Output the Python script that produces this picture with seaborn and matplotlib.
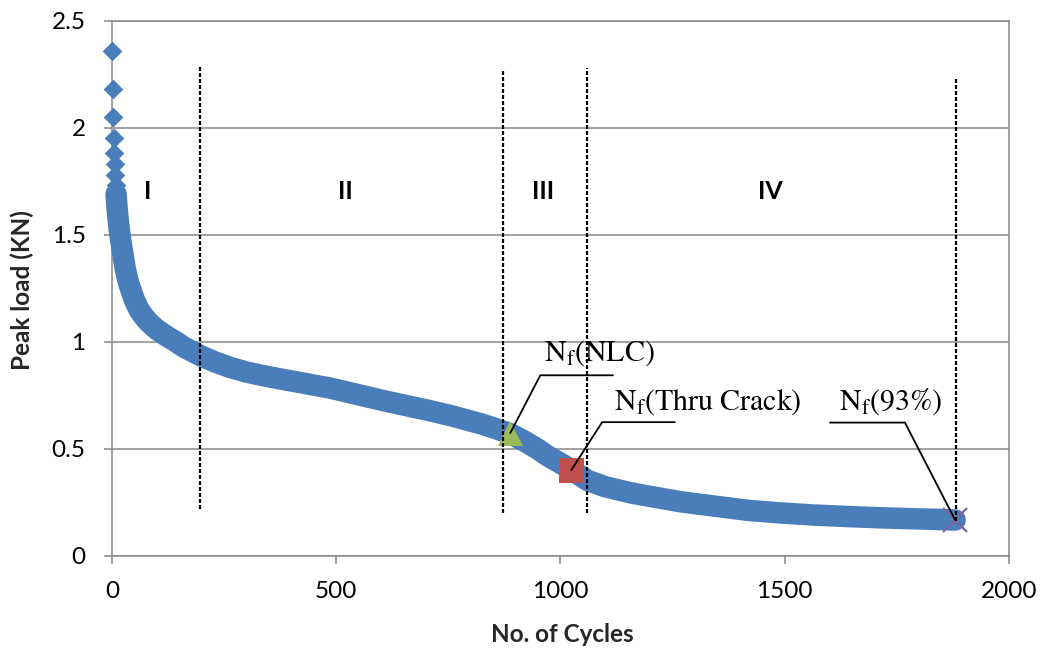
import numpy as np
import pandas as pd
import matplotlib
matplotlib.use("Agg")
import matplotlib.pyplot as plt
import seaborn as sns

# Peak load per cycle of the fatigue test
cycles = [1, 2, 3, 4, 5, 6, 7, 8, 9, 10, 11, 12, 13, 14, 15, 17, 20, 25, 30, 35,
          40, 50, 60, 70, 80, 90, 100, 120, 140, 160, 180, 200, 230, 263, 300,
          340, 375, 430, 487, 540, 598, 650, 710, 760, 821, 850, 888, 920, 950,
          970, 1000, 1024, 1060, 1100, 1156, 1200, 1268, 1312, 1350, 1417, 1490,
          1565, 1640, 1714, 1780, 1848, 1880]
peak_load = [2.36, 2.18, 2.05, 1.95, 1.88, 1.83, 1.78, 1.73, 1.69, 1.66, 1.63,
             1.61, 1.585, 1.565, 1.545, 1.51, 1.465, 1.40, 1.335, 1.29, 1.255,
             1.195, 1.15, 1.12, 1.095, 1.075, 1.057, 1.028, 1.003, 0.975, 0.953,
             0.932, 0.905, 0.880, 0.858, 0.840, 0.826, 0.805, 0.783, 0.757, 0.728,
             0.704, 0.677, 0.652, 0.617, 0.598, 0.570, 0.535, 0.497, 0.468, 0.432,
             0.402, 0.352, 0.322, 0.294, 0.277, 0.252, 0.240, 0.230, 0.212, 0.200,
             0.190, 0.183, 0.177, 0.173, 0.169, 0.167]

# Failure criteria picked on the curve
criteria = ["NLC", "Thru\\ Crack", "93\\%"]
criteria_cycles = [888, 1024, 1880]
criteria_loads = [0.573, 0.40, 0.167]
criteria_colors = ["#9BBB59", "#C0504D", "#8064A2"]
criteria_markers = ["^", "s", "x"]

# Stage boundaries and stage names
stage_bounds = [196, 872, 1059, 1883]
stage_bound_top = [2.29, 2.27, 2.28, 2.23]
stage_bound_bottom = [0.22, 0.20, 0.20, 0.16]
stage_names = ["I", "II", "III", "IV"]
stage_label_x = [80, 520, 962, 1467]

x_ticks = [0, 500, 1000, 1500, 2000]
x_tick_labels = ["0", "500", "1000", "1500", "2000"]
y_ticks = [0, 0.5, 1.0, 1.5, 2.0, 2.5]
y_tick_labels = ["0", "0.5", "1", "1.5", "2", "2.5"]

df = pd.DataFrame({"cycle": cycles, "load": peak_load})

sns.set_theme(style="white")
plt.rcParams["font.family"] = ["Lato", "DejaVu Sans"]
plt.rcParams["mathtext.fontset"] = "stix"

GRID = "#888888"
BLUE = "#4A7EBB"

fig = plt.figure(figsize=(10.42, 6.52), dpi=100)
ax = fig.add_axes([0.1075, 0.1477, 0.8608, 0.8206])

# dense part of the record drawn as a continuous band of diamonds
dense = df[df["cycle"] >= 9]
sns.lineplot(data=dense, x="cycle", y="load", ax=ax, color=BLUE,
             linewidth=15.5, estimator=None, sort=False,
             solid_capstyle="round", solid_joinstyle="round", zorder=3,
             clip_on=False)
sns.scatterplot(data=df, x="cycle", y="load", ax=ax, marker="D", s=100,
                color=BLUE, edgecolor=BLUE, linewidth=0, zorder=3.1,
                clip_on=False)

# failure-criterion markers
for c, l, col, m in zip(criteria_cycles, criteria_loads, criteria_colors,
                        criteria_markers):
    if m == "x":
        ax.plot([c], [l], marker=m, ms=17, mew=1.6, color=col, ls="none",
                zorder=3.5, clip_on=False)
    else:
        ax.plot([c], [l], marker=m, ms=18, mew=0, color=col, ls="none",
                zorder=3.5)

# stage boundaries
for xb, yt, yb in zip(stage_bounds, stage_bound_top, stage_bound_bottom):
    ax.plot([xb, xb], [yb, yt], color="black", lw=1.6, ls=(0, (1.8, 0.9)),
            zorder=4)

for name, xs in zip(stage_names, stage_label_x):
    ax.text(xs, 1.70, name, ha="center", va="center", fontsize=18,
            fontweight="bold", color="black", zorder=5)

# leader lines and labels for the criteria
elbows = [(955, 0.843), (1093, 0.624), (1768, 0.622)]
line_ends = [1117, 1255, 1601]
label_pos = [(1086, 0.911), (1329, 0.681), (1735, 0.681)]
for name, c, l, (ex, ey), xe, (tx, ty) in zip(criteria, criteria_cycles,
                                               criteria_loads, elbows,
                                               line_ends, label_pos):
    ax.plot([c, ex, xe], [l, ey, ey], color="black", lw=1.3, zorder=4.5,
            solid_joinstyle="miter")
    ax.text(tx, ty, r"$\mathrm{N_f(" + name + ")}$", ha="center",
            va="baseline", fontsize=21.5, color="black", zorder=5)

ax.set_xlim(0, 2000)
ax.set_ylim(0, 2.5)
ax.set_xticks(x_ticks)
ax.set_xticklabels(x_tick_labels)
ax.set_yticks(y_ticks)
ax.set_yticklabels(y_tick_labels)

ax.yaxis.grid(True, color=GRID, lw=1.1)
ax.xaxis.grid(False)
ax.set_axisbelow(True)
for side in ["left", "bottom", "right", "top"]:
    ax.spines[side].set_color(GRID)
    ax.spines[side].set_linewidth(1.1)
    ax.spines[side].set_zorder(1)

ax.tick_params(axis="both", which="major", direction="out", length=6,
               width=1.1, color=GRID, labelsize=17.5, labelcolor="black")
ax.tick_params(axis="y", pad=13)
ax.tick_params(axis="x", pad=12)
ax.tick_params(axis="x", which="major", bottom=True)
ax.tick_params(axis="y", which="major", left=True)

ax.set_xlabel("No. of Cycles", fontsize=17.5, fontweight="bold", va="center")
ax.set_ylabel("Peak load (KN)", fontsize=17.5, fontweight="bold", va="center")
ax.xaxis.set_label_coords(0.5017, -0.148)
ax.yaxis.set_label_coords(-0.1003, 0.497)

fig.savefig("out.png", dpi=100)
